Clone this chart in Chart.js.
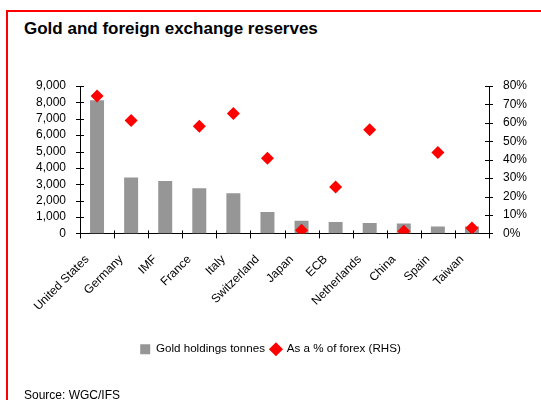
<!DOCTYPE html>
<html>
<head>
<meta charset="utf-8">
<script src="https://cdn.jsdelivr.net/npm/chart.js@4.4.0/dist/chart.umd.min.js"></script>
<style>
  html, body { margin: 0; padding: 0; background: #fff; }
  #wrap { position: relative; width: 541px; height: 400px; overflow: hidden; font-family: "Liberation Sans", Arial, sans-serif; }
  #frame { position: absolute; left: 6px; top: 10px; right: -4px; bottom: -4px; border-top: 2px solid #ff0000; border-left: 2px solid #ff0000; }
  #title { position: absolute; left: 24px; top: 19px; font-size: 17px; font-weight: bold; color: #000; }
  #source { position: absolute; left: 24px; top: 388px; font-size: 12px; color: #000; }
  #box { position: absolute; left: 0; top: 0; width: 541px; height: 400px; }
</style>
</head>
<body>
<div id="wrap">
  <div id="frame"></div>
  <div id="title">Gold and foreign exchange reserves</div>
  <div id="box"><canvas id="reserves"></canvas></div>
  <div id="source">Source: WGC/IFS</div>
</div>
<script>
// values
var countries = ['United States', 'Germany', 'IMF', 'France', 'Italy', 'Switzerland',
  'Japan', 'ECB', 'Netherlands', 'China', 'Spain', 'Taiwan'];
var goldTonnes = [8133, 3410, 3200, 2760, 2450, 1300, 765, 700, 640, 610, 420, 420];
var pctOfForex = [74.6, 61.3, null, 58.2, 65.1, 40.8, 1.7, 25.2, 56.3, 1.2, 43.9, 2.9]; // no point for IMF
var leftTicks = [0, 1000, 2000, 3000, 4000, 5000, 6000, 7000, 8000, 9000];
var rightTicks = [0, 10, 20, 30, 40, 50, 60, 70, 80];

var FONT = { family: '"Liberation Sans", Arial, sans-serif', size: 12 };

// little cross ticks on both sides of each axis line
var crossTicks = {
  id: 'crossTicks',
  afterDraw: function (chart) {
    var ctx = chart.ctx, a = chart.chartArea;
    ctx.save();
    ctx.strokeStyle = '#000';
    ctx.lineWidth = 1;
    ctx.beginPath();
    var y = chart.scales.y, y1 = chart.scales.y1, x = chart.scales.x;
    y.ticks.forEach(function (t, i) {
      var py = Math.round(y.getPixelForTick(i)) + 0.5;
      ctx.moveTo(a.left - 4, py); ctx.lineTo(a.left + 4, py);
    });
    y1.ticks.forEach(function (t, i) {
      var py = Math.round(y1.getPixelForTick(i)) + 0.5;
      ctx.moveTo(a.right - 4, py); ctx.lineTo(a.right + 4, py);
    });
    for (var i = 0; i <= countries.length; i++) {
      var px = Math.round(x.getPixelForValue(i - 0.5)) + 0.5;
      ctx.moveTo(px, a.bottom - 3); ctx.lineTo(px, a.bottom + 5);
    }
    ctx.stroke();
    ctx.restore();
  }
};

new Chart(document.getElementById('reserves'), {
  type: 'bar',
  data: {
    labels: countries,
    datasets: [{
      label: 'Gold holdings tonnes',
      data: goldTonnes,
      backgroundColor: '#969696',
      borderWidth: 0,
      barPercentage: 0.41,
      categoryPercentage: 1,
      yAxisID: 'y',
      order: 2
    }, {
      type: 'line',
      label: 'As a % of forex (RHS)',
      data: pctOfForex,
      showLine: false,
      pointStyle: 'rectRot',
      pointRadius: 6.5,
      pointBackgroundColor: '#ff0000',
      pointBorderColor: '#ff0000',
      pointBorderWidth: 0,
      backgroundColor: '#ff0000',
      borderColor: '#ff0000',
      yAxisID: 'y1',
      order: 1
    }]
  },
  options: {
    responsive: true,
    maintainAspectRatio: false,
    animation: false,
    layout: { padding: { top: 86, left: 0, right: 0, bottom: 35 } },
    plugins: {
      legend: {
        position: 'bottom',
        labels: {
          usePointStyle: true,
          boxWidth: 10,
          boxHeight: 10,
          padding: 6,
          color: '#000',
          font: { family: FONT.family, size: 11.6 },
          generateLabels: function (chart) {
            var items = Chart.defaults.plugins.legend.labels.generateLabels(chart);
            items.forEach(function (it) {
              if (it.datasetIndex === 0) {
                it.pointStyle = 'rect';
              } else {
                it.pointStyle = 'rectRot';
                it.lineWidth = 0;
              }
            });
            items.sort(function (p, q) { return p.datasetIndex - q.datasetIndex; });
            return items;
          }
        }
      },
      tooltip: { enabled: false }
    },
    scales: {
      x: {
        grid: { display: false, offset: true },
        border: { color: '#000', width: 1 },
        ticks: { color: '#000', font: FONT, autoSkip: false, minRotation: 45, maxRotation: 45, padding: 11, labelOffset: -10 },
        afterFit: function (s) { s.height = 104; }
      },
      y: {
        position: 'left',
        min: 0, max: 9000,
        afterBuildTicks: function (s) { s.ticks = leftTicks.map(function (v) { return { value: v }; }); },
        grid: { display: false },
        border: { color: '#000', width: 1 },
        ticks: {
          color: '#000', font: FONT, padding: 6, autoSkip: false,
          callback: function (v) { return v.toLocaleString('en-US'); }
        },
        afterFit: function (s) { s.width = 80; }
      },
      y1: {
        position: 'right',
        min: 0, max: 80,
        afterBuildTicks: function (s) { s.ticks = rightTicks.map(function (v) { return { value: v }; }); },
        grid: { display: false },
        border: { color: '#000', width: 1 },
        ticks: {
          color: '#000', font: FONT, padding: 6, autoSkip: false,
          callback: function (v) { return v + '%'; }
        },
        afterFit: function (s) { s.width = 52; }
      }
    }
  },
  plugins: [crossTicks]
});
</script>
</body>
</html>
